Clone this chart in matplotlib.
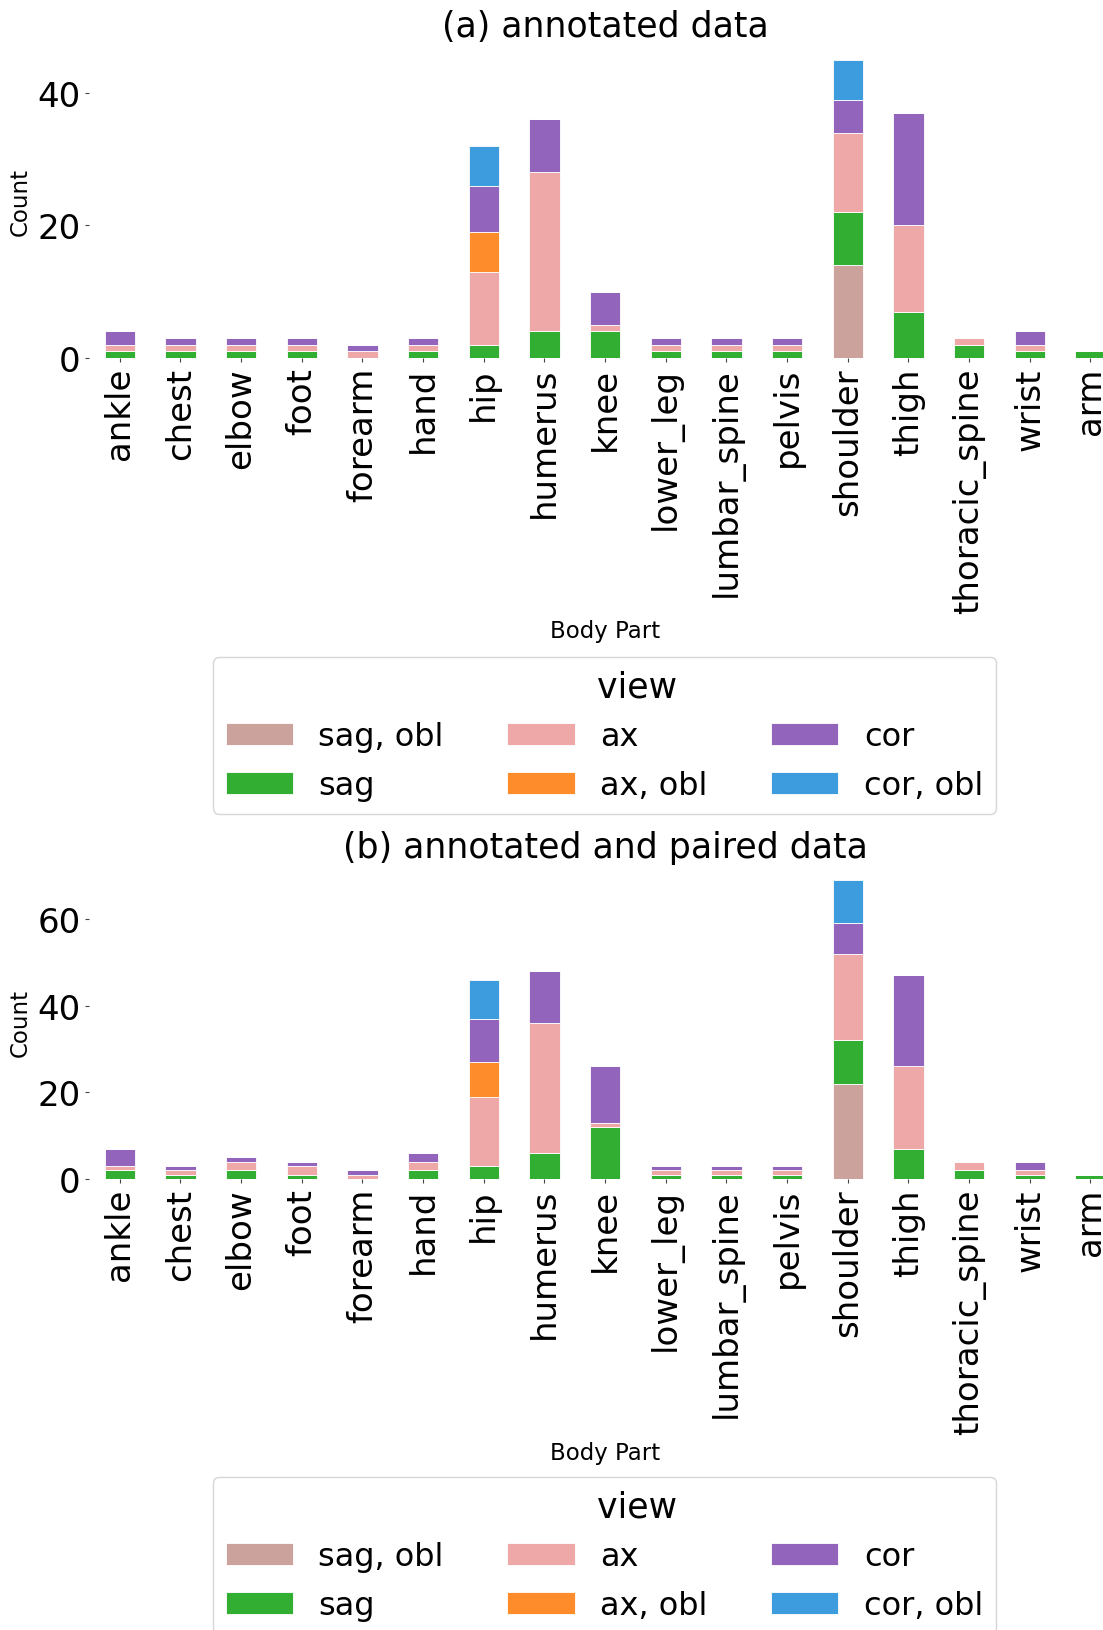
import numpy as np
import matplotlib
matplotlib.use("Agg")
import matplotlib.pyplot as plt

parts = ["ankle", "chest", "elbow", "foot", "forearm", "hand", "hip", "humerus",
         "knee", "lower_leg", "lumbar_spine", "pelvis", "shoulder", "thigh",
         "thoracic_spine", "wrist", "arm"]
views = ["sag, obl", "sag", "ax", "ax, obl", "cor", "cor, obl"]
colors = ["#cba39c", "#32ae32", "#eea8a8", "#ff8c2a", "#9364bb", "#3c9cde"]

# (a) annotated data
a_sag_obl = [0, 0, 0, 0, 0, 0, 0, 0, 0, 0, 0, 0, 14, 0, 0, 0, 0]
a_sag     = [1, 1, 1, 1, 0, 1, 2, 4, 4, 1, 1, 1, 8, 7, 2, 1, 1]
a_ax      = [1, 1, 1, 1, 1, 1, 11, 24, 1, 1, 1, 1, 12, 13, 1, 1, 0]
a_ax_obl  = [0, 0, 0, 0, 0, 0, 6, 0, 0, 0, 0, 0, 0, 0, 0, 0, 0]
a_cor     = [2, 1, 1, 1, 1, 1, 7, 8, 5, 1, 1, 1, 5, 17, 0, 2, 0]
a_cor_obl = [0, 0, 0, 0, 0, 0, 6, 0, 0, 0, 0, 0, 6, 0, 0, 0, 0]

# (b) annotated and paired data
b_sag_obl = [0, 0, 0, 0, 0, 0, 0, 0, 0, 0, 0, 0, 22, 0, 0, 0, 0]
b_sag     = [2, 1, 2, 1, 0, 2, 3, 6, 12, 1, 1, 1, 10, 7, 2, 1, 1]
b_ax      = [1, 1, 2, 2, 1, 2, 16, 30, 1, 1, 1, 1, 20, 19, 2, 1, 0]
b_ax_obl  = [0, 0, 0, 0, 0, 0, 8, 0, 0, 0, 0, 0, 0, 0, 0, 0, 0]
b_cor     = [4, 1, 1, 1, 1, 2, 10, 12, 13, 1, 1, 1, 7, 21, 0, 2, 0]
b_cor_obl = [0, 0, 0, 0, 0, 0, 9, 0, 0, 0, 0, 0, 10, 0, 0, 0, 0]

panels = [
    ("(a) annotated data", [a_sag_obl, a_sag, a_ax, a_ax_obl, a_cor, a_cor_obl], [0, 20, 40]),
    ("(b) annotated and paired data", [b_sag_obl, b_sag, b_ax, b_ax_obl, b_cor, b_cor_obl], [0, 20, 40, 60]),
]

fig = plt.figure(figsize=(11.03, 16.31), dpi=100)
ax_rects = [[0.0811, 0.7799, 0.935, 0.192], [0.0811, 0.2765, 0.935, 0.1925]]
leg_tops = [0.5966, 0.0938]

x = np.arange(len(parts))
for (title, series, yt), rect, ltop in zip(panels, ax_rects, leg_tops):
    ax = fig.add_axes(rect)
    bottom = np.zeros(len(parts))
    handles = []
    for name, vals, c in zip(views, series, colors):
        vals = np.array(vals, dtype=float)
        h = ax.bar(x, vals, 0.5, bottom=bottom, color=c, label=name,
                   edgecolor="white", linewidth=0.6)
        handles.append(h)
        bottom += vals
    ax.set_xlim(-0.5, len(parts) - 0.5)
    ax.set_ylim(0, bottom.max() * 1.05)
    ax.set_yticks(yt)
    ax.set_xticks(x)
    ax.set_xticklabels(parts, rotation=90)
    ax.tick_params(axis="both", labelsize=24.5, length=3, width=0.8, color="#444444")
    for s in ax.spines.values():
        s.set_visible(False)
    ax.set_title(title, fontsize=25)
    ax.set_ylabel("Count", fontsize=16.5)
    ax.set_xlabel("Body Part", fontsize=16.5, labelpad=5)
    fig.legend(handles=handles, labels=views, title="      view", ncol=3,
               loc="upper center", bbox_to_anchor=(0.548, ltop),
               borderaxespad=0, fontsize=23, title_fontsize=25,
               handlelength=2.1, columnspacing=2.0, labelspacing=0.55)

fig.savefig("out.png", dpi=100)
